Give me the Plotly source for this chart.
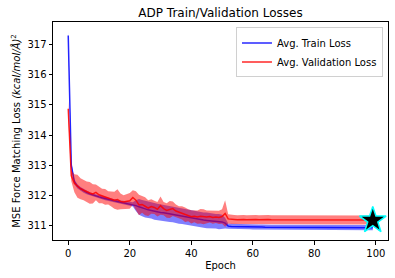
import plotly.graph_objects as go

train_mean = [
    317.30, 313.00, 312.45, 312.30, 312.22, 312.15, 312.10, 312.05, 312.01, 311.98,
    311.95, 311.92, 311.89, 311.87, 311.84, 311.82, 311.80, 311.78, 311.76, 311.74,
    311.72, 311.70, 311.66, 311.62, 311.58, 311.55, 311.52, 311.50, 311.47, 311.45,
    311.43, 311.42, 311.40, 311.39, 311.37, 311.35, 311.33, 311.31, 311.29, 311.27,
    311.25, 311.23, 311.22, 311.20, 311.18, 311.17, 311.16, 311.15, 311.14, 311.13,
    311.12, 311.08, 310.98, 310.97, 310.97, 310.97, 310.96, 310.96, 310.96, 310.96,
    310.95, 310.95, 310.95, 310.95, 310.94, 310.94, 310.94, 310.94, 310.94, 310.94,
    310.94, 310.94, 310.94, 310.94, 310.94, 310.94, 310.94, 310.94, 310.94, 310.94,
    310.94, 310.94, 310.94, 310.94, 310.94, 310.93, 310.93, 310.93, 310.93, 310.93,
    310.93, 310.93, 310.93, 310.93, 310.93, 310.93, 310.93, 310.93, 310.93, 310.93,
]
train_std = [
    0.12, 0.10, 0.08, 0.07, 0.06, 0.06, 0.06, 0.05, 0.05, 0.05,
    0.05, 0.05, 0.05, 0.05, 0.05, 0.05, 0.05, 0.05, 0.05, 0.06,
    0.06, 0.07, 0.18, 0.26, 0.27, 0.28, 0.28, 0.27, 0.28, 0.27,
    0.27, 0.26, 0.27, 0.27, 0.26, 0.26, 0.27, 0.26, 0.26, 0.25,
    0.25, 0.25, 0.26, 0.25, 0.25, 0.26, 0.25, 0.25, 0.24, 0.25,
    0.24, 0.18, 0.09, 0.09, 0.085, 0.085, 0.085, 0.085, 0.085, 0.085,
    0.085, 0.085, 0.085, 0.085, 0.085, 0.085, 0.085, 0.085, 0.085, 0.085,
    0.085, 0.085, 0.085, 0.085, 0.085, 0.085, 0.085, 0.085, 0.085, 0.085,
    0.085, 0.085, 0.085, 0.085, 0.085, 0.085, 0.085, 0.085, 0.085, 0.085,
    0.085, 0.085, 0.085, 0.085, 0.085, 0.085, 0.085, 0.085, 0.085, 0.085,
]
val_mean = [
    314.87, 312.65, 312.40, 312.30, 312.22, 312.17, 312.12, 312.08, 312.05, 312.10,
    312.02, 311.98, 311.95, 311.92, 311.88, 311.84, 311.86, 311.80, 311.78, 311.80,
    311.82, 311.93, 311.84, 311.68, 311.70, 311.64, 311.58, 311.63, 311.60, 311.54,
    311.66, 311.56, 311.50, 311.53, 311.56, 311.48, 311.44, 311.42, 311.36, 311.34,
    311.29, 311.31, 311.28, 311.31, 311.29, 311.28, 311.30, 311.27, 311.28, 311.27,
    311.30, 311.40, 311.22, 311.20, 311.20, 311.19, 311.20, 311.20, 311.19, 311.20,
    311.20, 311.20, 311.19, 311.20, 311.20, 311.20, 311.19, 311.19, 311.20, 311.20,
    311.20, 311.19, 311.20, 311.20, 311.19, 311.19, 311.20, 311.20, 311.19, 311.20,
    311.20, 311.19, 311.19, 311.20, 311.19, 311.19, 311.19, 311.20, 311.19, 311.19,
    311.19, 311.19, 311.19, 311.18, 311.19, 311.19, 311.18, 311.18, 311.18, 311.17,
]
val_std = [
    0.26, 0.18, 0.30, 0.38, 0.35, 0.33, 0.34, 0.36, 0.32, 0.26,
    0.28, 0.24, 0.26, 0.22, 0.25, 0.28, 0.34, 0.26, 0.22, 0.24,
    0.26, 0.24, 0.30, 0.34, 0.28, 0.30, 0.26, 0.24, 0.22, 0.24,
    0.30, 0.22, 0.24, 0.28, 0.24, 0.22, 0.20, 0.22, 0.24, 0.20,
    0.22, 0.20, 0.22, 0.24, 0.25, 0.22, 0.20, 0.21, 0.20, 0.22,
    0.24, 0.44, 0.15, 0.15, 0.15, 0.15, 0.15, 0.15, 0.15, 0.15,
    0.15, 0.15, 0.15, 0.15, 0.15, 0.15, 0.15, 0.15, 0.15, 0.15,
    0.15, 0.15, 0.15, 0.15, 0.15, 0.15, 0.15, 0.15, 0.15, 0.15,
    0.15, 0.15, 0.15, 0.15, 0.15, 0.15, 0.15, 0.15, 0.15, 0.15,
    0.15, 0.15, 0.15, 0.15, 0.15, 0.15, 0.15, 0.15, 0.15, 0.15,
]
epochs = list(range(len(train_mean)))
best_epoch = 99
x_ticks = [0, 20, 40, 60, 80, 100]
y_ticks = [311, 312, 313, 314, 315, 316, 317]

def band(mean, std):
    up = [m + s for m, s in zip(mean, std)]
    lo = [m - s for m, s in zip(mean, std)]
    return epochs + epochs[::-1], up + lo[::-1]

fig = go.Figure()
bx, by = band(train_mean, train_std)
fig.add_trace(go.Scatter(x=bx, y=by, fill="toself", fillcolor="rgba(0,0,255,0.5)",
                         line=dict(width=0), hoverinfo="skip", showlegend=False))
fig.add_trace(go.Scatter(x=epochs, y=train_mean, mode="lines", name="Avg. Train Loss",
                         line=dict(color="rgba(0,0,255,0.85)", width=1.5)))
vx, vy = band(val_mean, val_std)
fig.add_trace(go.Scatter(x=vx, y=vy, fill="toself", fillcolor="rgba(255,0,0,0.5)",
                         line=dict(width=0), hoverinfo="skip", showlegend=False))
fig.add_trace(go.Scatter(x=epochs, y=val_mean, mode="lines", name="Avg. Validation Loss",
                         line=dict(color="rgba(255,0,0,0.85)", width=1.5)))
fig.add_trace(go.Scatter(x=[best_epoch], y=[val_mean[best_epoch]], mode="markers",
                         showlegend=False,
                         marker=dict(symbol="star", size=20, color="black",
                                     line=dict(color="cyan", width=1.5))))

axis_common = dict(showline=True, linecolor="black", linewidth=1, mirror=True,
                   ticks="outside", ticklen=3.5, tickwidth=0.8, tickcolor="black",
                   showgrid=False, zeroline=False,
                   tickfont=dict(size=10, color="black"))
fig.update_layout(
    width=395, height=278,
    margin=dict(l=53, r=7, t=22, b=38),
    paper_bgcolor="white", plot_bgcolor="white",
    font=dict(family="DejaVu Sans", size=10, color="black"),
    title=dict(text="ADP Train/Validation Losses", x=0.5, xref="paper",
               xanchor="center", y=0.955, yanchor="middle",
               font=dict(size=12, color="black")),
    xaxis=dict(range=[-4.95, 103.95], tickvals=x_ticks,
               title=dict(text="Epoch", font=dict(size=10), standoff=4), **axis_common),
    yaxis=dict(range=[310.52, 317.75], tickvals=y_ticks,
               title=dict(text="MSE Force Matching Loss <i>(kcal/mol/Å)</i><sup>2</sup>",
                          font=dict(size=10), standoff=4), **axis_common),
    legend=dict(x=0.985, y=0.975, xanchor="right", yanchor="top",
                bgcolor="rgba(255,255,255,0.8)", bordercolor="#d0d0d0", borderwidth=1,
                font=dict(size=10), tracegroupgap=0),
    showlegend=True,
)
fig.write_html("out.html", config={"displayModeBar": False},
               post_script="document.body.style.margin='0';document.body.style.padding='0';")
